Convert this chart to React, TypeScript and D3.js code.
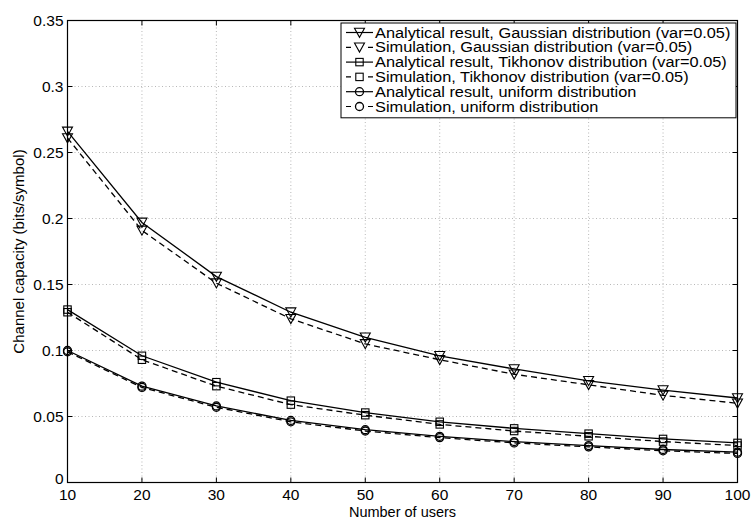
import React from "react";
import * as d3 from "d3";

const users = [10, 20, 30, 40, 50, 60, 70, 80, 90, 100];
const gaussAnalytical = [0.266, 0.197, 0.156, 0.129, 0.110, 0.096, 0.086, 0.077, 0.070, 0.064];
const gaussSim = [0.261, 0.191, 0.151, 0.124, 0.105, 0.093, 0.082, 0.074, 0.066, 0.060];
const tikhAnalytical = [0.131, 0.096, 0.076, 0.062, 0.053, 0.046, 0.041, 0.037, 0.033, 0.030];
const tikhSim = [0.129, 0.093, 0.073, 0.059, 0.051, 0.044, 0.039, 0.035, 0.031, 0.028];
const unifAnalytical = [0.100, 0.073, 0.058, 0.047, 0.040, 0.035, 0.031, 0.028, 0.025, 0.023];
const unifSim = [0.099, 0.072, 0.057, 0.046, 0.039, 0.034, 0.030, 0.027, 0.024, 0.022];

const xTicks = [10, 20, 30, 40, 50, 60, 70, 80, 90, 100];
const yTicks = [0, 0.05, 0.1, 0.15, 0.2, 0.25, 0.3, 0.35];
const yTickLabels = ["0", "0.05", "0.1", "0.15", "0.2", "0.25", "0.3", "0.35"];

const seriesNames = [
  "Analytical result, Gaussian distribution (var=0.05)",
  "Simulation, Gaussian distribution (var=0.05)",
  "Analytical result, Tikhonov distribution (var=0.05)",
  "Simulation, Tikhonov distribution (var=0.05)",
  "Analytical result, uniform distribution",
  "Simulation, uniform distribution",
];

const series = [
  { name: seriesNames[0], values: gaussAnalytical, marker: "tri", dashed: false },
  { name: seriesNames[1], values: gaussSim, marker: "tri", dashed: true },
  { name: seriesNames[2], values: tikhAnalytical, marker: "sq", dashed: false },
  { name: seriesNames[3], values: tikhSim, marker: "sq", dashed: true },
  { name: seriesNames[4], values: unifAnalytical, marker: "circ", dashed: false },
  { name: seriesNames[5], values: unifSim, marker: "circ", dashed: true },
];

const W = 752;
const H = 519;
const left = 67.5;
const right = 737.5;
const top = 20.5;
const bottom = 482.5;
const font = "'Liberation Sans', Arial, Helvetica, sans-serif";

const Marker = ({ kind, x, y }: { kind: string; x: number; y: number }) => {
  if (kind === "tri") {
    return (
      <path
        d={`M${x - 5},${y - 4.3} L${x + 5},${y - 4.3} L${x},${y + 4.8} Z`}
        fill="none"
        stroke="#000"
        strokeWidth={1.1}
      />
    );
  }
  if (kind === "sq") {
    return <rect x={x - 3.7} y={y - 3.7} width={7.4} height={7.4} fill="none" stroke="#000" strokeWidth={1.1} />;
  }
  return <circle cx={x} cy={y} r={4} fill="none" stroke="#000" strokeWidth={1.3} />;
};

const App = () => {
  const x = d3.scaleLinear().domain([10, 100]).range([left, right]);
  const y = d3.scaleLinear().domain([0, 0.35]).range([bottom, top]);
  const line = d3
    .line<number>()
    .x((_, i) => x(users[i]))
    .y((d) => y(d));

  const legX = 341;
  const legY = 23;
  const legW = 395;
  const rowH = 14.8;
  const legH = rowH * seriesNames.length + 6;

  return (
    <svg width={W} height={H} style={{ position: "absolute", left: 0, top: 0, background: "#fff" }} fontFamily={font}>
      <rect x={0} y={0} width={W} height={H} fill="#fff" />
      {/* grid */}
      {xTicks.slice(1, -1).map((t) => (
        <line key={"gx" + t} x1={x(t)} x2={x(t)} y1={top} y2={bottom} stroke="#999" strokeWidth={0.7} strokeDasharray="1 2.5" />
      ))}
      {yTicks.slice(1, -1).map((t) => (
        <line key={"gy" + t} x1={left} x2={right} y1={y(t)} y2={y(t)} stroke="#999" strokeWidth={0.7} strokeDasharray="1 2.5" />
      ))}
      {/* ticks */}
      {xTicks.map((t) => (
        <g key={"tx" + t}>
          <line x1={x(t)} x2={x(t)} y1={bottom} y2={bottom - 5} stroke="#000" />
          <line x1={x(t)} x2={x(t)} y1={top} y2={top + 5} stroke="#000" />
          <text x={x(t)} y={bottom + 17} fontSize={15.5} textAnchor="middle">
            {t}
          </text>
        </g>
      ))}
      {yTicks.map((t, i) => (
        <g key={"ty" + t}>
          <line x1={left} x2={left + 5} y1={y(t)} y2={y(t)} stroke="#000" />
          <line x1={right} x2={right - 5} y1={y(t)} y2={y(t)} stroke="#000" />
          <text x={left - 4} y={y(t) + (i === 0 ? 1 : 5.5)} fontSize={15.5} textAnchor="end">
            {yTickLabels[i]}
          </text>
        </g>
      ))}
      {/* series */}
      {series.map((s) => (
        <g key={s.name}>
          <path
            d={line(s.values) || ""}
            fill="none"
            stroke="#000"
            strokeWidth={1.3}
            strokeDasharray={s.dashed ? "6 4" : undefined}
          />
          {s.values.map((v, i) => (
            <Marker key={i} kind={s.marker} x={x(users[i])} y={y(v)} />
          ))}
        </g>
      ))}
      {/* axes box */}
      <rect x={left} y={top} width={right - left} height={bottom - top} fill="none" stroke="#000" strokeWidth={1.2} />
      {/* legend */}
      <rect x={legX} y={legY} width={legW} height={legH} fill="#fff" stroke="#000" strokeWidth={1} />
      {series.map((s, i) => {
        const cy = legY + 9.5 + i * rowH;
        return (
          <g key={"leg" + i}>
            <line
              x1={legX + 5}
              x2={legX + 32}
              y1={cy}
              y2={cy}
              stroke="#000"
              strokeWidth={1.2}
              strokeDasharray={s.dashed ? "5 17" : undefined}
            />
            <Marker kind={s.marker} x={legX + 18.5} y={cy} />
            <text transform={`translate(${legX + 34}, ${cy + 5}) scale(1.09, 1)`} fontSize={15}>
              {s.name}
            </text>
          </g>
        );
      })}
      {/* labels */}
      <text x={(left + right) / 2} y={517} fontSize={14.5} textAnchor="middle">
        Number of users
      </text>
      <text transform={`translate(24, ${(top + bottom) / 2}) rotate(-90)`} fontSize={15} textAnchor="middle">
        Channel capacity (bits/symbol)
      </text>
    </svg>
  );
};

export default App;
